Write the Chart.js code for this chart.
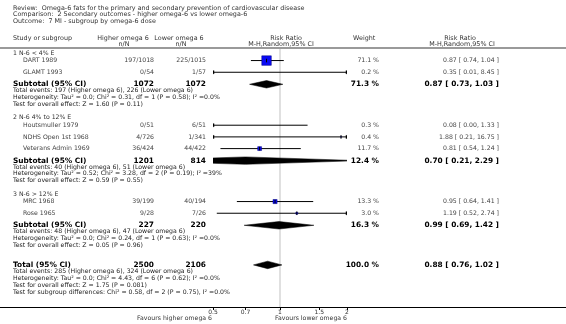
<!DOCTYPE html>
<html>
<head>
<meta charset="utf-8">
<script src="https://cdn.jsdelivr.net/npm/chart.js@4.4.0/dist/chart.umd.min.js"></script>
<style>
html, body { margin: 0; padding: 0; background: #fff; }
#wrap { width: 566px; height: 324px; position: relative; }
</style>
</head>
<body>
<div id="wrap"><canvas id="forest"></canvas></div>
<script>
// header text
const titleLines = [
    'Review:  Omega-6 fats for the primary and secondary prevention of cardiovascular disease',
    'Comparison:  2 Secondary outcomes - higher omega-6 vs lower omega-6',
    'Outcome:  7 MI - subgroup by omega-6 dose'
];

// studies
const studyNames = ['DART 1989', 'GLAMT 1993', 'Houtsmuller 1979', 'NDHS Open 1st 1968', 'Veterans Admin 1969', 'MRC 1968', 'Rose 1965'];
const studyGroup = [0, 0, 1, 1, 1, 2, 2];
const higherEvents = [197, 0, 0, 4, 36, 39, 9];
const higherTotal = [1018, 54, 51, 726, 424, 199, 28];
const lowerEvents = [225, 1, 6, 1, 44, 40, 7];
const lowerTotal = [1015, 57, 51, 341, 422, 194, 26];
const studyWeight = [71.1, 0.2, 0.3, 0.4, 11.7, 13.3, 3.0];
const studyRR = [0.87, 0.35, 0.08, 1.88, 0.81, 0.95, 1.19];
const studyLow = [0.74, 0.01, 0.00, 0.21, 0.54, 0.64, 0.52];
const studyHigh = [1.04, 8.45, 1.33, 16.75, 1.24, 1.41, 2.74];

// subgroups
const groupNames = ['1 N-6 < 4% E', '2 N-6 4% to 12% E', '3 N-6 > 12% E'];
const groupHigherTotal = [1072, 1201, 227];
const groupLowerTotal = [1072, 814, 220];
const groupHigherEvents = [197, 40, 48];
const groupLowerEvents = [226, 51, 47];
const groupWeight = [71.3, 12.4, 16.3];
const groupRR = [0.87, 0.70, 0.99];
const groupLow = [0.73, 0.21, 0.69];
const groupHigh = [1.03, 2.29, 1.42];
const groupTau = ['0.0', '0.52', '0.0'];
const groupChi = ['0.31', '3.28', '0.24'];
const groupDf = [1, 2, 1];
const groupHetP = ['0.58', '0.19', '0.63'];
const groupI2 = ['0.0%', '39%', '0.0%'];
const groupZ = ['1.60', '0.59', '0.05'];
const groupZP = ['0.11', '0.55', '0.96'];

// overall
const totalHigherTotal = 2500;
const totalLowerTotal = 2106;
const totalHigherEvents = 285;
const totalLowerEvents = 324;
const totalWeight = 100.0;
const totalRR = 0.88;
const totalLow = 0.76;
const totalHigh = 1.02;
const totalHet = 'Heterogeneity: Tau\u00b2 = 0.0; Chi\u00b2 = 4.43, df = 6 (P = 0.62); I\u00b2 =0.0%';
const totalTest = 'Test for overall effect: Z = 1.75 (P = 0.081)';
const subgroupTest = 'Test for subgroup differences: Chi\u00b2 = 0.58, df = 2 (P = 0.75), I\u00b2 =0.0%';

// axis
const axisTicks = [0.5, 0.7, 1, 1.5, 2];
const xMin = 0.5;
const xMax = 2;

const FONT = '"DejaVu Sans", Verdana, sans-serif';

// row layout (in line units, top to bottom)
const rows = { groups: [], studies: [] };
let pos = 0.6;
groupNames.forEach((g, gi) => {
    const r = { heading: pos };
    pos += 1.1;
    const idx = studyGroup.map((s, i) => s === gi ? i : -1).filter(i => i >= 0);
    idx.forEach((i, k) => {
        rows.studies[i] = pos;
        if (k < idx.length - 1) pos += 1.72;
    });
    r.subtotal = pos + 1.77;
    r.lines = [r.subtotal + 0.95, r.subtotal + 1.95, r.subtotal + 2.95];
    rows.groups.push(r);
    pos = r.lines[2] + 1.97;
});
const lastGroup = rows.groups[rows.groups.length - 1];
rows.total = lastGroup.lines[2] + 2.88;
rows.totalLines = [rows.total + 1.02, rows.total + 2.02, rows.total + 3.02, rows.total + 3.98];
const yMax = 37.95;
const diamondHalf = 0.55;

function clamp(v) { return Math.min(xMax, Math.max(xMin, v)); }

const datasets = [];

// reference line at 1
datasets.push({
    type: 'line', order: 10,
    data: [{ x: 1, y: 0 }, { x: 1, y: yMax }],
    borderColor: '#d6d6d6', borderWidth: 1.5, pointRadius: 0
});

// confidence intervals
studyNames.forEach((n, i) => {
    datasets.push({
        type: 'line', order: 8,
        data: [{ x: clamp(studyLow[i]), y: rows.studies[i] }, { x: clamp(studyHigh[i]), y: rows.studies[i] }],
        borderColor: '#000', borderWidth: 1,
        pointStyle: 'triangle',
        pointRotation: [-90, 90],
        pointRadius: [studyLow[i] < xMin ? 2 : 0, studyHigh[i] > xMax ? 2 : 0],
        pointBackgroundColor: '#000', pointBorderColor: '#000', pointBorderWidth: 0.5
    });
});

// diamonds
function diamond(rr, lo, hi, y) {
    return {
        type: 'line', order: 6,
        data: [{ x: lo, y: y }, { x: rr, y: y - diamondHalf }, { x: hi, y: y }, { x: rr, y: y + diamondHalf }, { x: lo, y: y }],
        borderColor: '#000', borderWidth: 0.5, backgroundColor: '#000',
        fill: 'shape', pointRadius: 0, tension: 0
    };
}
groupNames.forEach((g, gi) => datasets.push(diamond(groupRR[gi], groupLow[gi], groupHigh[gi], rows.groups[gi].subtotal)));
datasets.push(diamond(totalRR, totalLow, totalHigh, rows.total));

// weight squares
datasets.push({
    type: 'scatter', order: 4,
    data: studyRR.map((v, i) => ({ x: v, y: rows.studies[i] })),
    pointStyle: 'rect',
    pointRadius: studyWeight.map(w => 0.8 * Math.sqrt(w)),
    backgroundColor: '#0a0af5', borderColor: '#00007a', borderWidth: 0.5
});

// point estimate ticks
datasets.push({
    type: 'scatter', order: 2,
    data: studyRR.map((v, i) => ({ x: v, y: rows.studies[i] })),
    pointStyle: 'line', pointRotation: 90, pointRadius: 1.8,
    borderColor: '#000', borderWidth: 1
});

function rrText(rr, lo, hi) {
    return rr.toFixed(2) + ' [ ' + lo.toFixed(2) + ', ' + hi.toFixed(2) + ' ]';
}

const textPlugin = {
    id: 'forestText',
    afterDraw(chart) {
        const { ctx, chartArea, scales } = chart;
        const py = v => scales.y.getPixelForValue(v);
        const W = chart.width;

        function txt(s, x, y, align, size, color, bold) {
            ctx.font = (bold ? 'bold ' : '') + size + 'px ' + FONT;
            ctx.fillStyle = color;
            ctx.textAlign = align;
            ctx.textBaseline = 'middle';
            ctx.fillText(s, x, y);
        }

        ctx.save();
        // full width rules
        ctx.strokeStyle = '#9a9a9a';
        ctx.lineWidth = 2;
        ctx.beginPath();
        ctx.moveTo(0, chartArea.top - 1);
        ctx.lineTo(W, chartArea.top - 1);
        ctx.stroke();
        ctx.strokeStyle = '#000';
        ctx.lineWidth = 1;
        ctx.beginPath();
        ctx.moveTo(0, chartArea.bottom + 0.5);
        ctx.lineTo(W, chartArea.bottom + 0.5);
        ctx.stroke();

        // title
        titleLines.forEach((t, i) => txt(t, 13, 8.5 + i * 6.3, 'left', 6.4, '#333'));

        // column headers
        const h1 = 38, h2 = 44;
        const cx = (chartArea.left + chartArea.right) / 2;
        txt('Study or subgroup', 13, h1, 'left', 6.4, '#333');
        txt('Higher omega 6', 123, h1, 'center', 6.4, '#333');
        txt('n/N', 124, h2, 'center', 6.4, '#333');
        txt('Lower omega 6', 179, h1, 'center', 6.4, '#333');
        txt('n/N', 181, h2, 'center', 6.4, '#333');
        txt('Risk Ratio', cx + 6, h1, 'center', 6.4, '#333');
        txt('M-H,Random,95% CI', cx + 1, h2, 'center', 6.4, '#333');
        txt('Weight', 353, h1, 'left', 6.4, '#333');
        txt('Risk Ratio', 460, h1, 'center', 6.4, '#333');
        txt('M-H,Random,95% CI', 462, h2, 'center', 6.4, '#333');

        // groups
        groupNames.forEach((g, gi) => {
            const r = rows.groups[gi];
            txt(g, 13, py(r.heading), 'left', 6.2, '#333');
            studyNames.forEach((n, i) => {
                if (studyGroup[i] !== gi) return;
                const y = py(rows.studies[i]);
                txt(n, 23, y, 'left', 6.2, '#444');
                txt(higherEvents[i] + '/' + higherTotal[i], 154, y, 'right', 6.2, '#444');
                txt(lowerEvents[i] + '/' + lowerTotal[i], 206, y, 'right', 6.2, '#444');
                txt(studyWeight[i].toFixed(1) + ' %', 379, y, 'right', 6.2, '#444');
                txt(rrText(studyRR[i], studyLow[i], studyHigh[i]), 499, y, 'right', 6.2, '#444');
            });
            const ys = py(r.subtotal);
            txt('Subtotal (95% CI)', 13, ys, 'left', 7.4, '#000', true);
            txt(String(groupHigherTotal[gi]), 154, ys, 'right', 7.4, '#000', true);
            txt(String(groupLowerTotal[gi]), 206, ys, 'right', 7.4, '#000', true);
            txt(groupWeight[gi].toFixed(1) + ' %', 379, ys, 'right', 7.4, '#000', true);
            txt(rrText(groupRR[gi], groupLow[gi], groupHigh[gi]), 499, ys, 'right', 7.4, '#000', true);
            txt('Total events: ' + groupHigherEvents[gi] + ' (Higher omega 6), ' + groupLowerEvents[gi] + ' (Lower omega 6)', 13, py(r.lines[0]), 'left', 6.2, '#222');
            txt('Heterogeneity: Tau\u00b2 = ' + groupTau[gi] + '; Chi\u00b2 = ' + groupChi[gi] + ', df = ' + groupDf[gi] + ' (P = ' + groupHetP[gi] + '); I\u00b2 =' + groupI2[gi], 13, py(r.lines[1]), 'left', 6.2, '#222');
            txt('Test for overall effect: Z = ' + groupZ[gi] + ' (P = ' + groupZP[gi] + ')', 13, py(r.lines[2]), 'left', 6.2, '#222');
        });

        // total
        const yt = py(rows.total);
        txt('Total (95% CI)', 13, yt, 'left', 7.4, '#000', true);
        txt(String(totalHigherTotal), 154, yt, 'right', 7.4, '#000', true);
        txt(String(totalLowerTotal), 206, yt, 'right', 7.4, '#000', true);
        txt(totalWeight.toFixed(1) + ' %', 379, yt, 'right', 7.4, '#000', true);
        txt(rrText(totalRR, totalLow, totalHigh), 499, yt, 'right', 7.4, '#000', true);
        txt('Total events: ' + totalHigherEvents + ' (Higher omega 6), ' + totalLowerEvents + ' (Lower omega 6)', 13, py(rows.totalLines[0]), 'left', 6.2, '#222');
        txt(totalHet, 13, py(rows.totalLines[1]), 'left', 6.2, '#222');
        txt(totalTest, 13, py(rows.totalLines[2]), 'left', 6.2, '#222');
        txt(subgroupTest, 13, py(rows.totalLines[3]), 'left', 6.2, '#222');

        // favours labels
        txt('Favours higher omega 6', chartArea.left - 1, 318.5, 'right', 6.2, '#333');
        txt('Favours lower omega 6', chartArea.right, 318.5, 'right', 6.2, '#333');
        ctx.restore();
    }
};

new Chart(document.getElementById('forest'), {
    type: 'scatter',
    data: { datasets: datasets },
    options: {
        responsive: true,
        maintainAspectRatio: false,
        devicePixelRatio: 1,
        animation: false,
        events: [],
        layout: { padding: { left: 213, right: 219, top: 49, bottom: 0 } },
        plugins: { legend: { display: false }, tooltip: { enabled: false } },
        scales: {
            x: {
                type: 'logarithmic',
                min: xMin,
                max: xMax,
                afterBuildTicks: s => { s.ticks = axisTicks.map(v => ({ value: v })); },
                afterFit: s => { s.height = 17; },
                ticks: {
                    autoSkip: false, maxRotation: 0, padding: -1,
                    color: '#333', font: { family: FONT, size: 6 },
                    callback: v => String(v)
                },
                grid: { drawOnChartArea: false, drawTicks: true, tickLength: 3, color: '#000', lineWidth: 1 },
                border: { display: true, color: '#000', width: 1 }
            },
            y: { type: 'linear', reverse: true, min: 0, max: yMax, display: false }
        }
    },
    plugins: [textPlugin]
});
</script>
</body>
</html>
